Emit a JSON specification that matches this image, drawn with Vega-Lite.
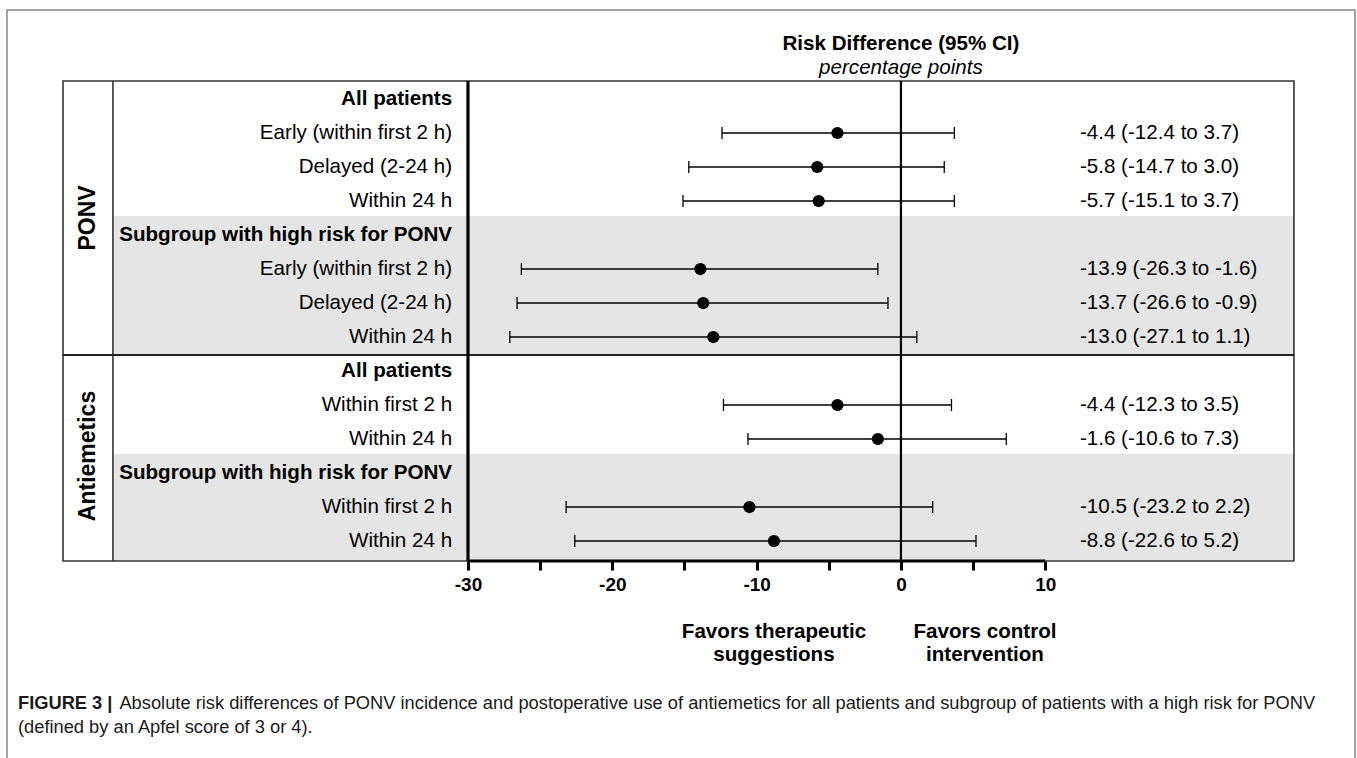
{
  "$schema": "https://vega.github.io/schema/vega-lite/v6.json",
  "width": 1348,
  "height": 760,
  "autosize": "none",
  "padding": {"left": 7, "top": 10, "right": 2, "bottom": 0},
  "background": "white",
  "config": {
    "font": "Liberation Sans",
    "view": {"stroke": "#858585", "strokeWidth": 1.5},
    "axisY": {"disable": true},
    "axisX": {
      "domain": false,
      "grid": false,
      "offset": -209,
      "tickSize": 9,
      "tickWidth": 3,
      "tickColor": "black",
      "labelFont": "Liberation Sans",
      "labelFontSize": 19,
      "labelFontWeight": "bold",
      "labelColor": "black",
      "labelPadding": 5
    }
  },
  "datasets": {
    "rows": [
      {"row": 0, "group": "PONV", "subset": "All patients", "label": "All patients", "header": true},
      {"row": 1, "group": "PONV", "subset": "All patients", "label": "Early (within first 2 h)", "header": false, "est": -4.4, "lo": -12.4, "hi": 3.7, "ci": "-4.4 (-12.4 to 3.7)"},
      {"row": 2, "group": "PONV", "subset": "All patients", "label": "Delayed (2-24 h)", "header": false, "est": -5.8, "lo": -14.7, "hi": 3.0, "ci": "-5.8 (-14.7 to 3.0)"},
      {"row": 3, "group": "PONV", "subset": "All patients", "label": "Within 24 h", "header": false, "est": -5.7, "lo": -15.1, "hi": 3.7, "ci": "-5.7 (-15.1 to 3.7)"},
      {"row": 4, "group": "PONV", "subset": "High-risk subgroup", "label": "Subgroup with high risk for PONV", "header": true},
      {"row": 5, "group": "PONV", "subset": "High-risk subgroup", "label": "Early (within first 2 h)", "header": false, "est": -13.9, "lo": -26.3, "hi": -1.6, "ci": "-13.9 (-26.3 to -1.6)"},
      {"row": 6, "group": "PONV", "subset": "High-risk subgroup", "label": "Delayed (2-24 h)", "header": false, "est": -13.7, "lo": -26.6, "hi": -0.9, "ci": "-13.7 (-26.6 to -0.9)"},
      {"row": 7, "group": "PONV", "subset": "High-risk subgroup", "label": "Within 24 h", "header": false, "est": -13.0, "lo": -27.1, "hi": 1.1, "ci": "-13.0 (-27.1 to 1.1)"},
      {"row": 8, "group": "Antiemetics", "subset": "All patients", "label": "All patients", "header": true},
      {"row": 9, "group": "Antiemetics", "subset": "All patients", "label": "Within first 2 h", "header": false, "est": -4.4, "lo": -12.3, "hi": 3.5, "ci": "-4.4 (-12.3 to 3.5)"},
      {"row": 10, "group": "Antiemetics", "subset": "All patients", "label": "Within 24 h", "header": false, "est": -1.6, "lo": -10.6, "hi": 7.3, "ci": "-1.6 (-10.6 to 7.3)"},
      {"row": 11, "group": "Antiemetics", "subset": "High-risk subgroup", "label": "Subgroup with high risk for PONV", "header": true},
      {"row": 12, "group": "Antiemetics", "subset": "High-risk subgroup", "label": "Within first 2 h", "header": false, "est": -10.5, "lo": -23.2, "hi": 2.2, "ci": "-10.5 (-23.2 to 2.2)"},
      {"row": 13, "group": "Antiemetics", "subset": "High-risk subgroup", "label": "Within 24 h", "header": false, "est": -8.8, "lo": -22.6, "hi": 5.2, "ci": "-8.8 (-22.6 to 5.2)"}
    ]
  },
  "layer": [
    {
      "data": {"name": "rows"},
      "transform": [{"filter": "datum.subset === 'High-risk subgroup'"}],
      "mark": {"type": "rect", "color": "#e5e5e5", "height": 38},
      "encoding": {
        "x": {
          "datum": -54.6,
          "type": "quantitative",
          "scale": {"domain": [-61.94, 31.46], "nice": false, "zero": false},
          "axis": {
            "values": [-30, -25, -20, -15, -10, -5, 0, 5, 10],
            "labelExpr": "datum.value % 10 === 0 ? '' + datum.value : ''",
            "title": null
          }
        },
        "x2": {"datum": 27.23},
        "y": {"field": "row", "type": "quantitative", "scale": {"domain": [-2.6176, 19.735], "nice": false, "zero": false, "reverse": true}}
      }
    },
    {
      "data": {"values": [{}]},
      "mark": {"type": "rect", "fill": "transparent", "stroke": "#333333", "strokeWidth": 1.6},
      "encoding": {
        "x": {"datum": -58.06, "type": "quantitative"},
        "x2": {"datum": 27.23},
        "y": {"datum": -0.529, "type": "quantitative"},
        "y2": {"datum": 13.588}
      }
    },
    {
      "data": {"values": [{}]},
      "mark": {"type": "rule", "color": "#333333", "strokeWidth": 1.6},
      "encoding": {
        "x": {"datum": -54.6, "type": "quantitative"},
        "y": {"datum": -0.529, "type": "quantitative"},
        "y2": {"datum": 13.588}
      }
    },
    {
      "data": {"values": [{}]},
      "mark": {"type": "rule", "color": "#222222", "strokeWidth": 1.8},
      "encoding": {
        "x": {"datum": -58.06, "type": "quantitative"},
        "x2": {"datum": 27.23},
        "y": {"datum": 7.529, "type": "quantitative"}
      }
    },
    {
      "data": {"values": [{}]},
      "mark": {"type": "rule", "color": "black", "strokeWidth": 2.2},
      "encoding": {
        "x": {"datum": 0, "type": "quantitative"},
        "y": {"datum": -0.529, "type": "quantitative"},
        "y2": {"datum": 13.588}
      }
    },
    {
      "data": {"values": [{}]},
      "mark": {"type": "rule", "color": "black", "strokeWidth": 3.2},
      "encoding": {
        "x": {"datum": -30, "type": "quantitative"},
        "y": {"datum": -0.529, "type": "quantitative"},
        "y2": {"datum": 13.588}
      }
    },
    {
      "data": {"values": [{}]},
      "mark": {"type": "rule", "color": "black", "strokeWidth": 3.2},
      "encoding": {
        "x": {"datum": -30, "type": "quantitative"},
        "x2": {"datum": 10},
        "y": {"datum": 13.588, "type": "quantitative"}
      }
    },
    {
      "data": {"name": "rows"},
      "transform": [{"filter": "isValid(datum.est)"}],
      "mark": {"type": "rule", "color": "black", "strokeWidth": 1.3},
      "encoding": {
        "x": {"field": "lo", "type": "quantitative", "title": null},
        "x2": {"field": "hi"},
        "y": {"field": "row", "type": "quantitative"}
      }
    },
    {
      "data": {"name": "rows"},
      "transform": [{"filter": "isValid(datum.est)"}],
      "mark": {"type": "tick", "orient": "vertical", "color": "black", "size": 12, "thickness": 1.3, "opacity": 1},
      "encoding": {
        "x": {"field": "lo", "type": "quantitative", "title": null},
        "y": {"field": "row", "type": "quantitative"}
      }
    },
    {
      "data": {"name": "rows"},
      "transform": [{"filter": "isValid(datum.est)"}],
      "mark": {"type": "tick", "orient": "vertical", "color": "black", "size": 12, "thickness": 1.3, "opacity": 1},
      "encoding": {
        "x": {"field": "hi", "type": "quantitative", "title": null},
        "y": {"field": "row", "type": "quantitative"}
      }
    },
    {
      "data": {"name": "rows"},
      "transform": [{"filter": "isValid(datum.est)"}],
      "mark": {"type": "point", "shape": "circle", "filled": true, "color": "black", "opacity": 1, "size": 150},
      "encoding": {
        "x": {"field": "est", "type": "quantitative", "title": null},
        "y": {"field": "row", "type": "quantitative"}
      }
    },
    {
      "data": {"name": "rows"},
      "transform": [{"filter": "datum.header"}],
      "mark": {"type": "text", "align": "right", "baseline": "middle", "fontSize": 20.6, "fontWeight": "bold", "color": "black"},
      "encoding": {
        "x": {"datum": -31.1, "type": "quantitative"},
        "y": {"field": "row", "type": "quantitative"},
        "text": {"field": "label"}
      }
    },
    {
      "data": {"name": "rows"},
      "transform": [{"filter": "!datum.header"}],
      "mark": {"type": "text", "align": "right", "baseline": "middle", "fontSize": 20.6, "color": "black"},
      "encoding": {
        "x": {"datum": -31.1, "type": "quantitative"},
        "y": {"field": "row", "type": "quantitative"},
        "text": {"field": "label"}
      }
    },
    {
      "data": {"name": "rows"},
      "transform": [{"filter": "isValid(datum.est)"}],
      "mark": {"type": "text", "align": "left", "baseline": "middle", "fontSize": 20.6, "color": "black"},
      "encoding": {
        "x": {"datum": 12.4, "type": "quantitative"},
        "y": {"field": "row", "type": "quantitative"},
        "text": {"field": "ci"}
      }
    },
    {
      "data": {"name": "rows"},
      "mark": {"type": "text", "angle": 270, "align": "center", "baseline": "middle", "fontSize": 23, "fontWeight": "bold", "color": "black"},
      "encoding": {
        "x": {"datum": -56.33, "type": "quantitative"},
        "y": {"aggregate": "mean", "field": "row", "type": "quantitative"},
        "text": {"field": "group"}
      }
    },
    {
      "data": {"values": [{}]},
      "mark": {"type": "text", "text": "Risk Difference (95% CI)", "align": "center", "baseline": "middle", "fontSize": 20.6, "fontWeight": "bold", "color": "black"},
      "encoding": {
        "x": {"datum": 0, "type": "quantitative"},
        "y": {"datum": -1.618, "type": "quantitative"}
      }
    },
    {
      "data": {"values": [{}]},
      "mark": {"type": "text", "text": "percentage points", "align": "center", "baseline": "middle", "fontSize": 20.6, "fontStyle": "italic", "color": "black"},
      "encoding": {
        "x": {"datum": 0, "type": "quantitative"},
        "y": {"datum": -0.912, "type": "quantitative"}
      }
    },
    {
      "data": {"values": [{}]},
      "mark": {"type": "text", "text": ["Favors therapeutic", "suggestions"], "align": "center", "baseline": "middle", "lineHeight": 23, "fontSize": 20.6, "fontWeight": "bold", "color": "black"},
      "encoding": {
        "x": {"datum": -8.8, "type": "quantitative"},
        "y": {"datum": 15.676, "type": "quantitative"}
      }
    },
    {
      "data": {"values": [{}]},
      "mark": {"type": "text", "text": ["Favors control", "intervention"], "align": "center", "baseline": "middle", "lineHeight": 23, "fontSize": 20.6, "fontWeight": "bold", "color": "black"},
      "encoding": {
        "x": {"datum": 5.82, "type": "quantitative"},
        "y": {"datum": 15.676, "type": "quantitative"}
      }
    },
    {
      "data": {"values": [{}]},
      "mark": {"type": "text", "text": "FIGURE 3 |", "align": "left", "baseline": "middle", "fontSize": 18.3, "fontWeight": "bold", "color": "#1a1a1a"},
      "encoding": {
        "x": {"datum": -61.18, "type": "quantitative"},
        "y": {"datum": 17.794, "type": "quantitative"}
      }
    },
    {
      "data": {"values": [{}]},
      "mark": {"type": "text", "text": "Absolute risk differences of PONV incidence and postoperative use of antiemetics for all patients and subgroup of patients with a high risk for PONV", "align": "left", "baseline": "middle", "fontSize": 18.3, "color": "#1a1a1a"},
      "encoding": {
        "x": {"datum": -54.15, "type": "quantitative"},
        "y": {"datum": 17.794, "type": "quantitative"}
      }
    },
    {
      "data": {"values": [{}]},
      "mark": {"type": "text", "text": "(defined by an Apfel score of 3 or 4).", "align": "left", "baseline": "middle", "fontSize": 18.3, "color": "#1a1a1a"},
      "encoding": {
        "x": {"datum": -61.18, "type": "quantitative"},
        "y": {"datum": 18.5, "type": "quantitative"}
      }
    }
  ]
}
